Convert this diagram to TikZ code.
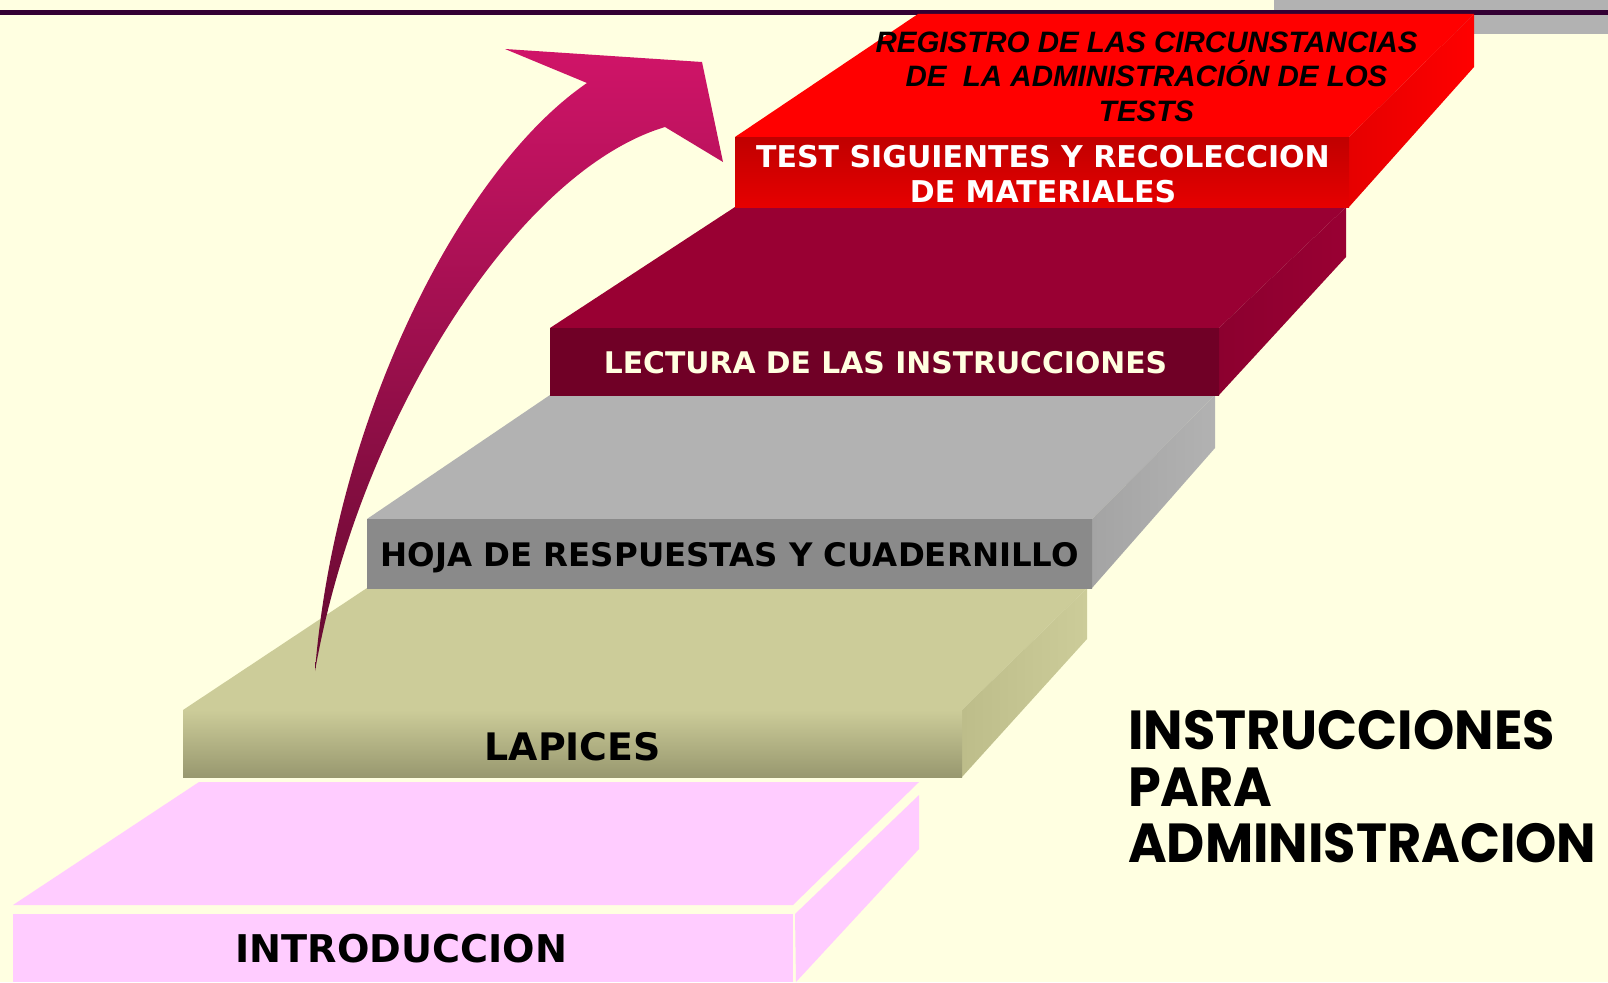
\documentclass[tikz,border=0pt]{standalone}
\usepackage{fontspec}
\setmainfont{DejaVu Sans}
\newfontfamily\verd{DejaVu Sans}
\newfontfamily\arialf{Liberation Sans}
\newfontfamily\comicf{Poppins}[FakeStretch=0.955]
\definecolor{bg}{HTML}{FFFFE1}
\definecolor{topline}{HTML}{330033}
\definecolor{graybar}{HTML}{B2B2B2}
\definecolor{pinkb}{HTML}{FFCCFF}
\definecolor{khaki}{HTML}{CCCC99}
\definecolor{khakim}{HTML}{C6C694}
\definecolor{khakid}{HTML}{98986F}
\definecolor{khakis}{HTML}{BDBD8A}
\definecolor{grayb}{HTML}{B2B2B2}
\definecolor{grayd}{HTML}{8A8A8A}
\definecolor{grays}{HTML}{A4A4A4}
\definecolor{maroon}{HTML}{990033}
\definecolor{maroond}{HTML}{700026}
\definecolor{maroons}{HTML}{8C002F}
\definecolor{redb}{HTML}{FF0000}
\definecolor{redd}{HTML}{C00000}
\definecolor{reds}{HTML}{E60000}
\definecolor{cream}{HTML}{FFFFE0}
\definecolor{arrtop}{HTML}{D01468}
\definecolor{arrmid}{HTML}{B51459}
\definecolor{arrbot}{HTML}{640A30}
\tikzset{
  bt/.style={inner sep=0pt, anchor=base, font=\verd\bfseries\fontsize{#1}{#1}\selectfont},
  rt/.style={inner sep=0pt, anchor=base, font=\arialf\bfseries\itshape\fontsize{#1}{#1}\selectfont},
  ct/.style={inner sep=0pt, anchor=base west, font=\comicf\bfseries\fontsize{#1}{#1}\selectfont},
}
\begin{document}
\begin{tikzpicture}[x=1pt,y=-1pt]
\useasboundingbox (0,0) rectangle (1608,982);
\fill[bg] (0,0) rectangle (1608,982);
% top decorations
\fill[graybar] (1274,0) rectangle (1608,34);
\fill[topline] (0,10) rectangle (1608,15);
% pink block
\fill[pinkb] (13,905) -- (199,782) -- (919,782) -- (793,905) -- cycle;
\fill[pinkb] (13,914) rectangle (793,982);
\fill[pinkb] (795,914) -- (919,795) -- (919,849) -- (796,982) -- cycle;
% khaki block
\fill[khaki] (183,710) -- (367,588) -- (1087,588) -- (962,710) -- cycle;
\shade[left color=khakis, right color=khaki] (962,710) -- (1087,588) -- (1087,639) -- (962,777) -- cycle;
\shade[top color=khaki, middle color=khakim, bottom color=khakid] (183,710) rectangle (962,777);
% gray block
\fill[grayb] (367,519) -- (550,395) -- (1215,395) -- (1092,519) -- cycle;
\shade[left color=grays, right color=grayb] (1092,519) -- (1215,395) -- (1215,448) -- (1092,588) -- cycle;
\shade[top color=grayd, middle color=grayb, bottom color=grayd] (367,519) rectangle (1092,588);
% maroon block
\fill[maroon] (550,328) -- (735,207) -- (1346,207) -- (1219,328) -- cycle;
\shade[left color=maroons, right color=maroon] (1219,328) -- (1346,207) -- (1346,257) -- (1219,395) -- cycle;
\shade[top color=maroond, middle color=maroon, bottom color=maroond] (550,328) rectangle (1219,395);
% red block
\fill[redb] (735,137) -- (918,14) -- (1474,14) -- (1349,137) -- cycle;
\shade[left color=reds, right color=redb] (1349,137) -- (1474,14) -- (1474,67) -- (1349,207) -- cycle;
\shade[top color=redd, middle color=redb, bottom color=reds] (735,137) rectangle (1349,207);
% curved arrow
\coordinate (tail) at (315,671);
\coordinate (outerjoin) at (587,83);
\coordinate (innerjoin) at (665,127);
\shade[top color=arrtop, middle color=arrmid, bottom color=arrbot]
  (tail) .. controls (335,420) and (460,170) .. (outerjoin)
  -- (505,49) -- (702,62) -- (723,162) -- (innerjoin)
  .. controls (515,172) and (358,425) .. (tail) -- cycle;
% texts
\node[bt=38.2] (intro) at (401.5,962.7) {INTRODUCCION};
\node[bt=37.9] (lapices) at (572.7,760) {LAPICES};
\node[bt=32.4] (hoja) at (729.7,566) {HOJA DE RESPUESTAS Y CUADERNILLO};
\node[bt=29.8, text=cream] (lectura) at (885.5,373.3) {LECTURA DE LAS INSTRUCCIONES};
\node[bt=30, text=white] (test1) at (1043,167.3) {TEST SIGUIENTES Y RECOLECCION};
\node[bt=30, text=white] (test2) at (1043,202.5) {DE MATERIALES};
\node[rt=29.5] (reg1) at (1146.5,52.3) {REGISTRO DE LAS CIRCUNSTANCIAS};
\node[rt=29.5] (reg2) at (1146.5,86.7) {DE\ \ LA ADMINISTRACIÓN DE LOS};
\node[rt=29.5] (reg3) at (1146.5,121.7) {TESTS};
\node[ct=55] (ins1) at (1128,749) {INSTRUCCIONES};
\node[ct=55] (ins2) at (1128,806) {PARA};
\node[ct=55] (ins3) at (1128,862) {ADMINISTRACION};
\end{tikzpicture}
\end{document}
